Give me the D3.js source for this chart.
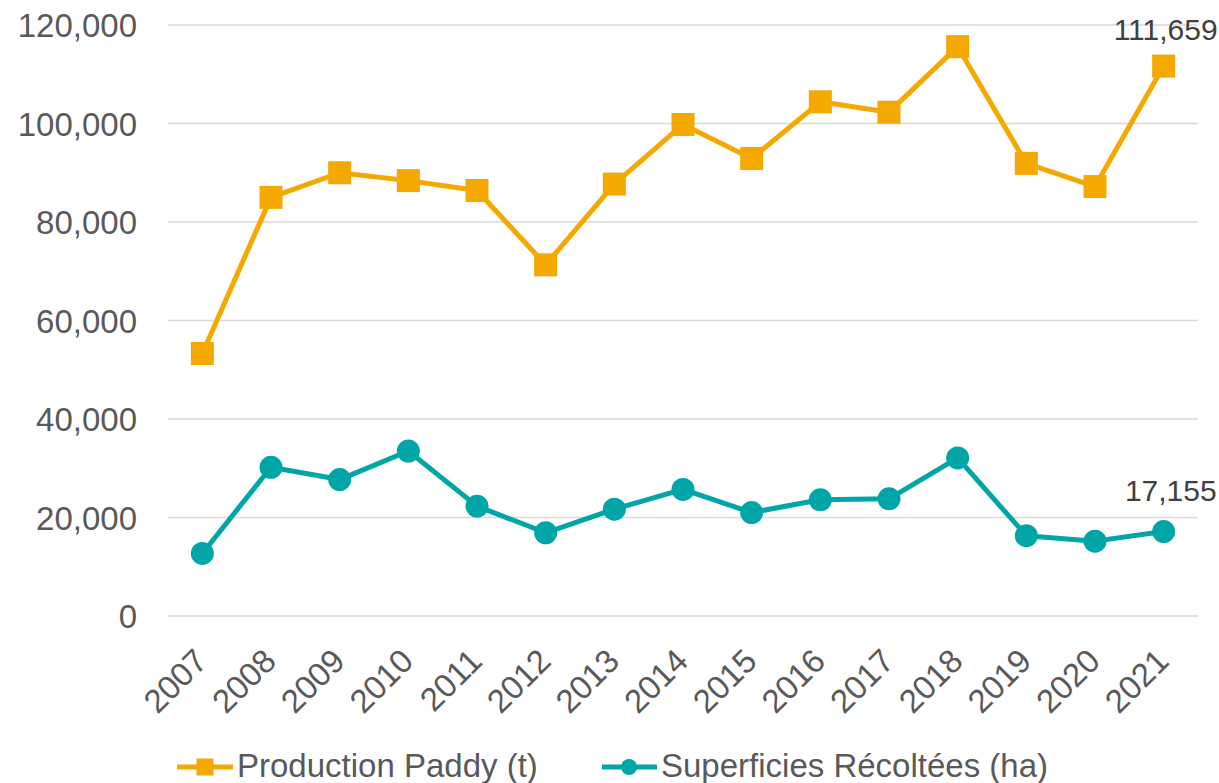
<!DOCTYPE html>
<html>
<head>
<meta charset="utf-8">
<script src="https://cdn.jsdelivr.net/npm/d3@7"></script>
<style>
  body { margin: 0; background: #fff; }
  text { font-family: "Liberation Sans", Arial, sans-serif; }
</style>
</head>
<body>
<svg id="Viz"></svg>
<script>
// data
let years = ["2007","2008","2009","2010","2011","2012","2013","2014","2015","2016","2017","2018","2019","2020","2021"];
let production = [53300, 85000, 90000, 88400, 86400, 71300, 87700, 99800, 92900, 104400, 102300, 115600, 91900, 87200, 111659];
let superficie = [12700, 30200, 27700, 33500, 22300, 16900, 21700, 25700, 21000, 23600, 23800, 32100, 16300, 15200, 17155];
let yTicks = [0, 20000, 40000, 60000, 80000, 100000, 120000];
let seriesNames = ["Production Paddy (t)", "Superficies Récoltées (ha)"];

let Width = 1219, Height = 783;
let margin = {top: 25, right: 21, bottom: 167, left: 168};

let orange = "#f5a800";
let teal = "#00a5a8";

let svg = d3.select('#Viz')
  .attr("width", Width)
  .attr("height", Height);

let xScale = d3.scaleBand().domain(years).range([margin.left, Width - margin.right]);
let yScale = d3.scaleLinear().domain([0, 120000]).range([Height - margin.bottom, margin.top]);
let cx = function(d){ return xScale(d) + xScale.bandwidth()/2; };

// gridlines
svg.append("g")
  .selectAll("line")
  .data(yTicks)
  .enter()
  .append("line")
  .attr("x1", margin.left)
  .attr("x2", Width - margin.right)
  .attr("y1", d => yScale(d))
  .attr("y2", d => yScale(d))
  .attr("stroke", "#d9d9d9")
  .attr("stroke-width", 1.5);

// y axis
let yAxis = svg.append("g")
  .attr("transform", "translate(" + (margin.left - 31) + ",0)")
  .call(d3.axisLeft(yScale).tickValues(yTicks).tickSize(0).tickFormat(d3.format(",")));
yAxis.select(".domain").remove();
yAxis.selectAll("text")
  .attr("x", 0)
  .attr("dy", "0.35em")
  .attr("fill", "#595959")
  .style("font-size", "33px")
  .style("font-family", "Liberation Sans, Arial, sans-serif");

// x axis
let xAxis = svg.append("g")
  .attr("transform", "translate(0," + (Height - margin.bottom) + ")")
  .call(d3.axisBottom(xScale).tickSize(0));
xAxis.select(".domain").remove();
xAxis.selectAll("text")
  .attr("fill", "#595959")
  .style("font-size", "33px")
  .style("font-family", "Liberation Sans, Arial, sans-serif")
  .attr("text-anchor", "end")
  .attr("dy", null)
  .attr("y", 0)
  .attr("transform", "translate(7,47) rotate(-45)");

let line = d3.line()
  .x((d, i) => cx(years[i]))
  .y(d => yScale(d));

// production line
svg.append("path")
  .datum(production)
  .attr("fill", "none")
  .attr("stroke", orange)
  .attr("stroke-width", 5)
  .attr("stroke-linejoin", "round")
  .attr("d", line);

svg.selectAll(".sq")
  .data(production)
  .enter()
  .append("rect")
  .attr("x", (d, i) => cx(years[i]) - 11.5)
  .attr("y", d => yScale(d) - 11.5)
  .attr("width", 23)
  .attr("height", 23)
  .attr("fill", orange);

// superficie line
svg.append("path")
  .datum(superficie)
  .attr("fill", "none")
  .attr("stroke", teal)
  .attr("stroke-width", 5)
  .attr("stroke-linejoin", "round")
  .attr("d", line);

svg.selectAll(".dot")
  .data(superficie)
  .enter()
  .append("circle")
  .attr("cx", (d, i) => cx(years[i]))
  .attr("cy", d => yScale(d))
  .attr("r", 11.5)
  .attr("fill", teal);

// labels on last point
let last = years.length - 1;
svg.append("text")
  .attr("x", cx(years[last]) + 54)
  .attr("y", yScale(production[last]) - 26)
  .attr("text-anchor", "end")
  .attr("fill", "#404040")
  .style("font-size", "30px")
  .text(d3.format(",")(production[last]));

svg.append("text")
  .attr("x", cx(years[last]) + 53)
  .attr("y", yScale(superficie[last]) - 31)
  .attr("text-anchor", "end")
  .attr("fill", "#404040")
  .style("font-size", "30px")
  .text(d3.format(",")(superficie[last]));

// legend
let leg = svg.append("g");
let legX = [177, 602];
let legY = 767;

leg.append("line").attr("x1", legX[0]).attr("x2", legX[0] + 56).attr("y1", legY).attr("y2", legY)
  .attr("stroke", orange).attr("stroke-width", 5);
leg.append("rect").attr("x", legX[0] + 28 - 8.5).attr("y", legY - 8.5).attr("width", 17).attr("height", 17)
  .attr("fill", orange);
leg.append("text").attr("x", legX[0] + 60).attr("y", legY + 10)
  .attr("fill", "#595959").style("font-size", "33px").text(seriesNames[0]);

leg.append("line").attr("x1", legX[1]).attr("x2", legX[1] + 55).attr("y1", legY).attr("y2", legY)
  .attr("stroke", teal).attr("stroke-width", 5);
leg.append("circle").attr("cx", legX[1] + 27).attr("cy", legY).attr("r", 8)
  .attr("fill", teal);
leg.append("text").attr("x", legX[1] + 59).attr("y", legY + 10)
  .attr("fill", "#595959").style("font-size", "33px").text(seriesNames[1]);
</script>
</body>
</html>
